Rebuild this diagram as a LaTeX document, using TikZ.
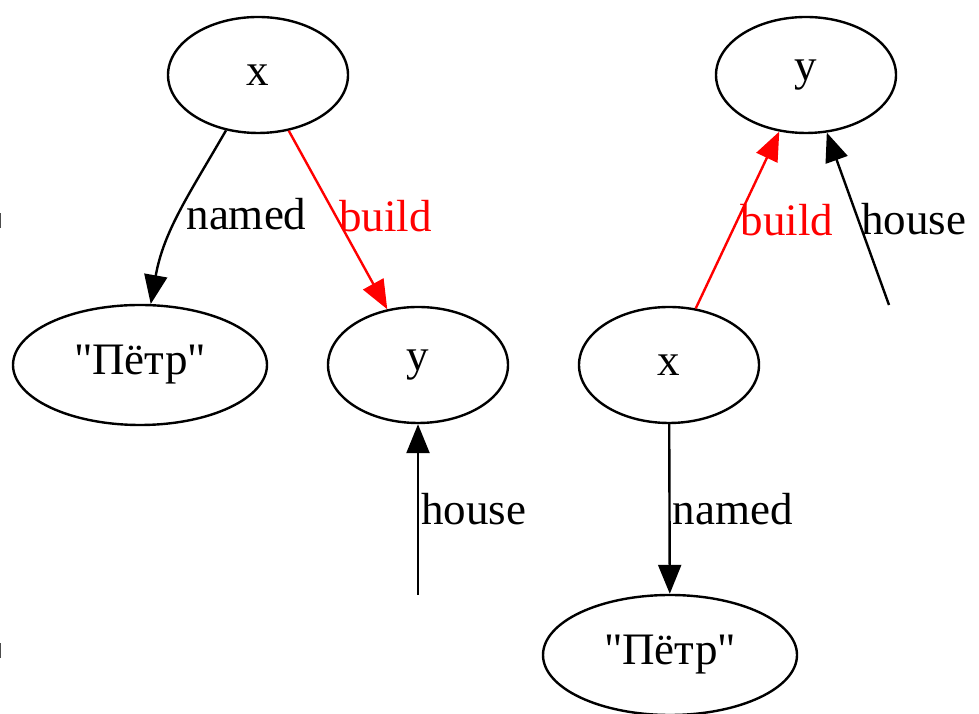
\documentclass[tikz,border=0pt]{standalone}
\usepackage{fontspec}
\setmainfont{Liberation Serif}
\usetikzlibrary{arrows.meta,shapes.geometric}

\begin{document}
\begin{tikzpicture}[x=1pt,y=1pt,>={Triangle[length=29pt,width=23pt]},
  every node/.style={font=\fontsize{45}{54}\selectfont},
  knoten/.style={draw,ellipse,line width=2.4pt,inner sep=0pt,minimum width=180pt,minimum height=116pt},
  wort/.style={knoten,minimum width=254pt,minimum height=120pt},
  kante/.style={->,line width=2.4pt},
  lab/.style={right,inner sep=2pt}]
  \useasboundingbox (0,0) rectangle (979,714);
  % linker Graph
  \node[knoten] (x1) at (258,639) {x};
  \node[wort] (petr1) at (140,349) {\textquotedbl Пётр\textquotedbl};
  \node[knoten] (y1) at (418,349) {y};
  \coordinate (h1) at (418,119);
  \draw[kante] (x1) to[out=240,in=80] node[lab,pos=.5,xshift=4pt] {named} (petr1);
  \draw[kante,red] (x1) -- node[lab,pos=.48] {build} (y1);
  \draw[kante] (h1) -- node[lab,pos=.5] {house} (y1);
  % rechter Graph
  \node[knoten] (y2) at (806,639) {y};
  \node[knoten] (x2) at (669,349) {x};
  \node[wort] (petr2) at (670,59) {\textquotedbl Пётр\textquotedbl};
  \coordinate (h2) at (889,409);
  \draw[kante,red] (x2) -- node[lab,pos=.5] {build} (y2);
  \draw[kante] (h2) -- node[lab,pos=.5] {house} (y2);
  \draw[kante] (x2) -- node[lab,pos=.5] {named} (petr2);
  % Reste am linken Rand
  \draw[line width=1.5pt,black!70] (0.7,486) -- (0.7,501) (0.7,56) -- (0.7,71);
\end{tikzpicture}
\end{document}
